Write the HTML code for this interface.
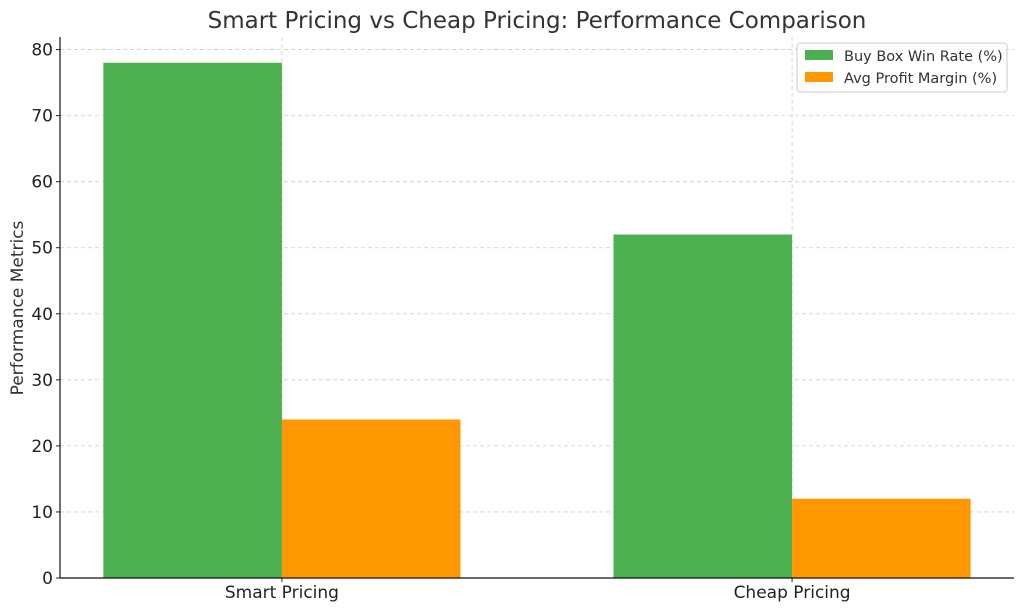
<!DOCTYPE html>
<html><head><meta charset="utf-8"><style>
body{margin:0;background:#fff;}
svg{display:block;font-family:"DejaVu Sans","Liberation Sans",sans-serif;}
</style></head><body>
<svg id="chart" width="1024" height="611">
<text x="537" y="28" text-anchor="middle" font-size="23" fill="#333">Smart Pricing vs Cheap Pricing: Performance Comparison</text>
<text transform="translate(23,308) rotate(-90)" text-anchor="middle" font-size="17" fill="#333">Performance Metrics</text>
<g id="grid"></g><g id="bars"></g><g id="axes"></g>
<g>
<rect x="797" y="43" width="210" height="49" rx="3" fill="#fff" fill-opacity="0.8" stroke="#ccc"/>
<rect x="805" y="50" width="28" height="10" fill="#4caf50"/>
<text x="844" y="61" font-size="14.5" fill="#333">Buy Box Win Rate (%)</text>
<rect x="805" y="72" width="28" height="10" fill="#ff9800"/>
<text x="844" y="83" font-size="14.5" fill="#333">Avg Profit Margin (%)</text>
</g>
</svg>
<script>
const categories=["Smart Pricing","Cheap Pricing"];
const buyBox=[78,52];
const profitMargin=[24,12];
const yTicks=[0,10,20,30,40,50,60,70,80];
const NS="http://www.w3.org/2000/svg";
const L=60,R=1014,T=37,B=578;
const xmin=-0.435,xmax=1.435,ymax=81.9;
const X=v=>L+(v-xmin)/(xmax-xmin)*(R-L);
const Y=v=>B-v/ymax*(B-T);
function mk(tag,attrs,parent){const e=document.createElementNS(NS,tag);for(const k in attrs)e.setAttribute(k,attrs[k]);parent.appendChild(e);return e;}
const grid=document.getElementById('grid'),bars=document.getElementById('bars'),axes=document.getElementById('axes');
yTicks.forEach(t=>{
 const l=mk('line',{x1:L,x2:R,y1:Y(t),y2:Y(t),stroke:'#ccc','stroke-dasharray':'4,3','stroke-width':0.8},grid);
 
 
 mk('line',{x1:L-4,x2:L,y1:Y(t),y2:Y(t),stroke:'#222'},axes);
 const tx=mk('text',{x:L-7,y:Y(t)+6,'text-anchor':'end','font-size':17,fill:'#222'},axes);
 tx.textContent=t;
 
 
});
const w=0.35;
categories.forEach((c,i)=>{
 const gl=mk('line',{x1:X(i),x2:X(i),y1:T,y2:B,stroke:'#ccc','stroke-dasharray':'4,3','stroke-width':0.8},grid);
 
 
 const b1=mk('rect',{x:X(i-w),y:Y(buyBox[i]),width:X(i)-X(i-w),height:B-Y(buyBox[i]),fill:'#4caf50'},bars);
 
 
 const b2=mk('rect',{x:X(i),y:Y(profitMargin[i]),width:X(i+w)-X(i),height:B-Y(profitMargin[i]),fill:'#ff9800'},bars);
 
 
 mk('line',{x1:X(i),x2:X(i),y1:B,y2:B+4,stroke:'#222'},axes);
 const tx=mk('text',{x:X(i),y:B+20,'text-anchor':'middle','font-size':17,fill:'#222'},axes);
 tx.textContent=c;
 
 
});
const ax=mk('path',{d:`M${L},${T}V${B}H${R}`,fill:'none',stroke:'#111','stroke-width':1.2},axes);


</script>
</body></html>
